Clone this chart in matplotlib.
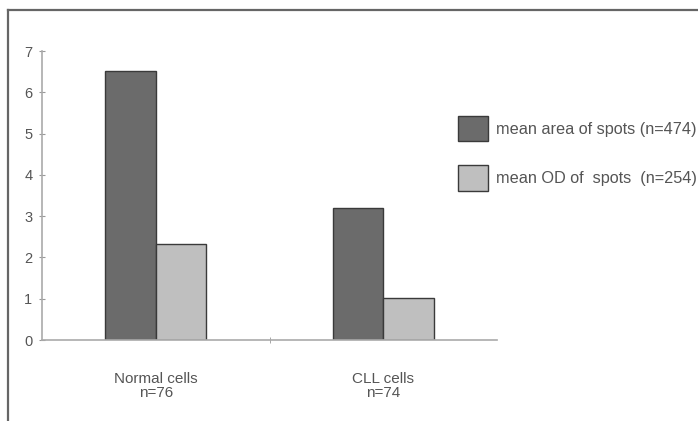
import matplotlib.pyplot as plt
import numpy as np
from matplotlib.lines import Line2D

plt.rcParams['font.family'] = ['Liberation Sans', 'DejaVu Sans']

categories = ["Normal cells\nn=76", "CLL cells\nn=74"]
area_vals = [6.52, 3.19]
od_vals = [2.33, 1.01]
series_labels = ["mean area of spots (n=474)", "mean OD of  spots  (n=254)"]

fig = plt.figure(figsize=(6.98, 4.21), dpi=100)
ax = fig.add_axes([42/698, 1-340/421, (497-42)/698, (340-51)/421])

x = np.arange(len(categories))
w = 0.222
ax.bar(x - w/2, area_vals, w, color='#6b6b6b', edgecolor='#3a3a3a', linewidth=1.0, label=series_labels[0])
ax.bar(x + w/2, od_vals, w, color='#bfbfbf', edgecolor='#3a3a3a', linewidth=1.0, label=series_labels[1])

ax.set_xlim(-0.5, 1.5)
ax.set_ylim(0, 7)
ax.set_yticks(range(0, 8))
ax.set_xticks(x)
ax.set_xticklabels(categories, fontsize=11, color='#555555', linespacing=1.05)
ax.tick_params(axis='y', labelsize=10.5, labelcolor='#555555', direction='inout',
               length=4, color='#999999', pad=5)
ax.tick_params(axis='x', length=0, pad=23)
# small tick between the categories
ax.set_xticks([0.5], minor=True)
ax.tick_params(axis='x', which='minor', direction='inout', length=4, color='#999999')

for s in ['top', 'right']:
    ax.spines[s].set_visible(False)
for s in ['left', 'bottom']:
    ax.spines[s].set_color('#aaaaaa')
    ax.spines[s].set_linewidth(1.2)

ax.legend(loc='upper left', bbox_to_anchor=(458/698, 1-116/421), bbox_transform=fig.transFigure,
          frameon=False, fontsize=11.7, borderpad=0, borderaxespad=0,
          handlelength=1.85, handleheight=2.0, handletextpad=0.5, labelspacing=1.5,
          labelcolor='#555555')

# outer frame (left and top edges)
fig.add_artist(Line2D([8/698, 8/698], [0, 1-10/421], transform=fig.transFigure, color='#666666', lw=1.6))
fig.add_artist(Line2D([8/698, 1], [1-10/421, 1-10/421], transform=fig.transFigure, color='#666666', lw=1.6))

plt.savefig('out.png', dpi=100)
